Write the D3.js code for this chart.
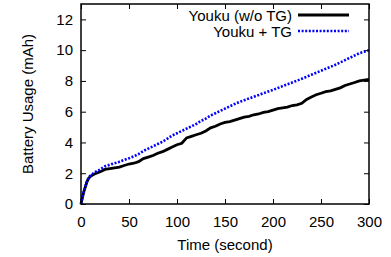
<!DOCTYPE html>
<html>
<head>
<meta charset="utf-8">
<script src="https://cdn.jsdelivr.net/npm/d3@7"></script>
<style>
  body { margin: 0; background: #fff; }
  text { font-family: "Liberation Sans", Arial, sans-serif; fill: #000; }
</style>
</head>
<body>
<div id="chart"></div>
<script>
// Data
var timeEarly = [0, 1, 2, 3, 4, 5, 6, 7, 8, 9, 10, 12, 14, 16, 18, 20];
var timeLate = d3.range(25, 301, 5);
var times = timeEarly.concat(timeLate);

var noTG = [0, 0.3, 0.55, 0.8, 1.0, 1.2, 1.4, 1.55, 1.65, 1.75, 1.8, 1.88, 1.95, 2.0, 2.05, 2.1,
  2.25, 2.3, 2.35, 2.4, 2.5, 2.6, 2.65, 2.75, 2.95, 3.05, 3.15, 3.3, 3.4, 3.55, 3.7, 3.85,
  3.95, 4.3, 4.4, 4.5, 4.6, 4.75, 4.95, 5.05, 5.2, 5.3, 5.35, 5.45, 5.55, 5.65, 5.7, 5.8,
  5.85, 5.95, 6.0, 6.1, 6.2, 6.25, 6.3, 6.4, 6.45, 6.55, 6.8, 6.95, 7.1, 7.2, 7.3, 7.35,
  7.45, 7.55, 7.7, 7.8, 7.9, 8.0, 8.05, 8.1];

var withTG = [0, 0.3, 0.6, 0.85, 1.05, 1.25, 1.45, 1.6, 1.7, 1.8, 1.85, 1.95, 2.05, 2.12, 2.18, 2.25,
  2.45, 2.55, 2.65, 2.75, 2.87, 2.97, 3.1, 3.25, 3.45, 3.6, 3.75, 3.9, 4.05, 4.25, 4.45, 4.6,
  4.75, 4.9, 5.05, 5.2, 5.4, 5.55, 5.75, 5.9, 6.05, 6.2, 6.35, 6.5, 6.63, 6.75, 6.86, 6.97,
  7.08, 7.2, 7.31, 7.42, 7.54, 7.66, 7.78, 7.9, 8.02, 8.14, 8.27, 8.4, 8.53, 8.66, 8.79, 8.92,
  9.05, 9.2, 9.35, 9.5, 9.65, 9.8, 9.9, 10.0];

var xTicks = [0, 50, 100, 150, 200, 250, 300];
var yTicks = [0, 2, 4, 6, 8, 10, 12];
var seriesNames = ["Youku (w/o TG)", "Youku + TG"];

var svgWidth = 391;
var svgHeight = 257;
var margin = { top: 4, right: 22, bottom: 53, left: 81 };
var width = svgWidth - margin.left - margin.right;
var height = svgHeight - margin.top - margin.bottom;

var svg = d3.select("#chart")
  .append("svg")
  .attr("width", svgWidth)
  .attr("height", svgHeight);

var chartGroup = svg.append("g")
  .attr("transform", `translate(${margin.left}, ${margin.top})`);

var xScale = d3.scaleLinear().domain([0, 300]).range([0, width]);
var yScale = d3.scaleLinear().domain([0, 13]).range([height, 0]);

// axes with inward ticks, mirrored on top and right
var bottomAxis = d3.axisBottom(xScale).tickValues(xTicks).tickSizeInner(-5).tickSizeOuter(0).tickPadding(12);
var leftAxis = d3.axisLeft(yScale).tickValues(yTicks).tickSizeInner(-5).tickSizeOuter(0).tickPadding(8);
var topAxis = d3.axisTop(xScale).tickValues(xTicks).tickSizeInner(-5).tickSizeOuter(0).tickFormat("");
var rightAxis = d3.axisRight(yScale).tickValues(yTicks).tickSizeInner(-5).tickSizeOuter(0).tickFormat("");

function styleAxis(g) {
  g.select(".domain").remove();
  g.selectAll(".tick line").attr("stroke", "#000").attr("stroke-width", 1);
  g.selectAll(".tick text").style("font-size", "15px").attr("fill", "#000");
}

chartGroup.append("g").attr("transform", `translate(0, ${height})`).call(bottomAxis).call(styleAxis);
chartGroup.append("g").call(leftAxis).call(styleAxis);
chartGroup.append("g").call(topAxis).call(styleAxis);
chartGroup.append("g").attr("transform", `translate(${width}, 0)`).call(rightAxis).call(styleAxis);

// lines
var line = d3.line()
  .x((d, i) => xScale(times[i]))
  .y(d => yScale(d));

chartGroup.append("path")
  .datum(noTG)
  .attr("d", line)
  .attr("fill", "none")
  .attr("stroke", "#000")
  .attr("stroke-width", 2.8);

chartGroup.append("path")
  .datum(withTG)
  .attr("d", line)
  .attr("fill", "none")
  .attr("stroke", "#0000ff")
  .attr("stroke-width", 2.6)
  .attr("stroke-dasharray", "2,1.6");

// frame
chartGroup.append("rect")
  .attr("width", width)
  .attr("height", height)
  .attr("fill", "none")
  .attr("stroke", "#000")
  .attr("stroke-width", 1.5);

// legend
var legend = svg.append("g");
seriesNames.forEach(function (name, i) {
  var yy = 21 + i * 16;
  legend.append("text")
    .attr("x", 292)
    .attr("y", yy)
    .attr("text-anchor", "end")
    .style("font-size", "15px")
    .text(name);
  legend.append("line")
    .attr("x1", 298)
    .attr("x2", 349)
    .attr("y1", yy - 6)
    .attr("y2", yy - 6)
    .attr("stroke", i == 0 ? "#000" : "#0000ff")
    .attr("stroke-width", i == 0 ? 2.8 : 2.6)
    .attr("stroke-dasharray", i == 0 ? null : "2,1.6");
});

// axis labels
svg.append("text")
  .attr("transform", "rotate(-90)")
  .attr("x", -(margin.top + height / 2))
  .attr("y", 33)
  .attr("text-anchor", "middle")
  .style("font-size", "15px")
  .text("Battery Usage (mAh)");

svg.append("text")
  .attr("x", margin.left + width / 2)
  .attr("y", 250)
  .attr("text-anchor", "middle")
  .style("font-size", "15px")
  .text("Time (second)");
</script>
</body>
</html>
